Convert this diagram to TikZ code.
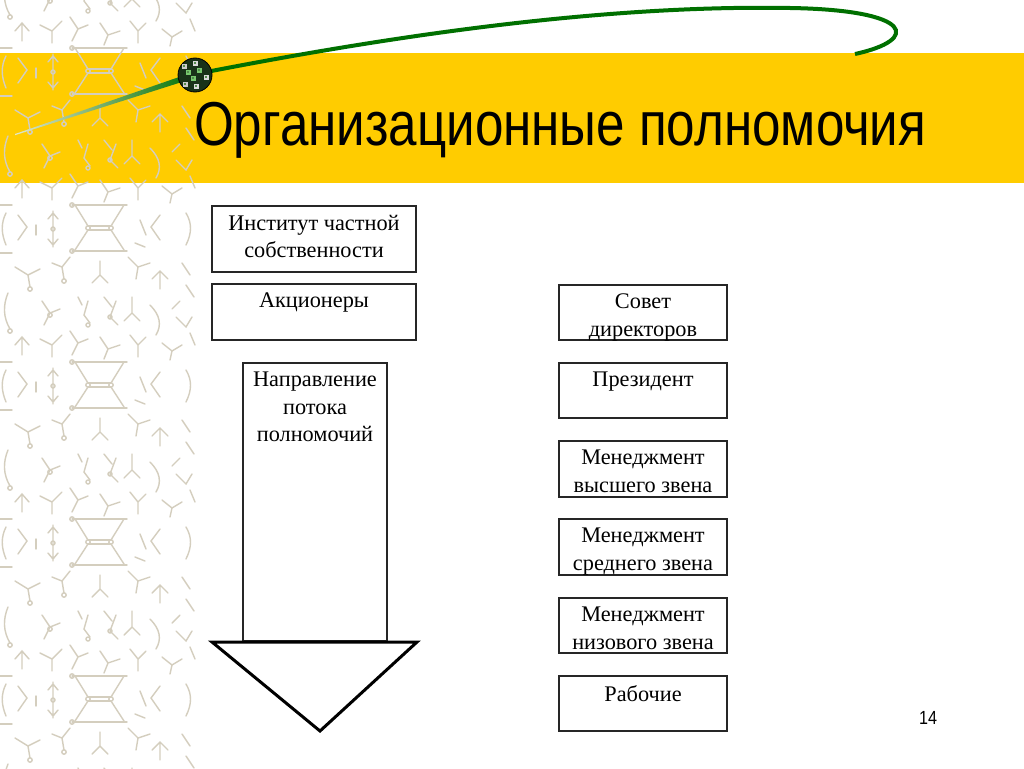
\documentclass[tikz,border=0pt]{standalone}
\usepackage{fontspec}
\setmainfont{Liberation Serif}
\newfontfamily\sansf{Liberation Sans}
\usetikzlibrary{positioning}
\definecolor{bandyellow}{RGB}{255,204,0}
\definecolor{patgray}{RGB}{212,206,190}
\definecolor{curvegreen}{RGB}{0,112,0}
\definecolor{palegreen}{RGB}{225,232,205}
\definecolor{dotdark}{RGB}{25,50,25}
\definecolor{dotlight}{RGB}{120,200,110}
\newcommand{\patterntile}{%
  % hourglass
  \draw (72,0) -- (127,0);
  \draw (75,0) -- (88,21) (124,0) -- (111,21);
  \draw (88,21) -- (111,21) (88,25) -- (111,25);
  \draw (88,25) -- (75,45) (111,25) -- (124,45);
  \draw (72,46) -- (127,46);
  \draw (72,0) circle (2.2) (88,23) circle (2.2) (111,23) circle (2.2) (72,46) circle (2.2);
  % left dashes and brackets
  \draw (0,0) -- (12,0) (0,48) -- (12,48);
  \draw (6,8) .. controls (1,18) and (1,28) .. (6,40);
  \draw (18,10) -- (27,22) -- (18,35);
  \draw (53,6) -- (53,42) (48,14) -- (53,8) -- (58,14) (48,34) -- (53,40) -- (58,34);
  \draw (53,24) circle (2);
  \draw (36,20) -- (36,30);
  % right brackets
  \draw (186,8) .. controls (192,18) and (192,28) .. (186,40);
  \draw (160,10) -- (151,22) -- (160,35);
  \draw (140,15) -- (146,30) (135,38) -- (145,42);
  % stick figures
  \draw (70,52) -- (62,62) (62,62) -- (52,58) (62,62) -- (64,74);
  \draw (64,76) circle (2.2);
  \draw (100,56) -- (100,70) (100,70) -- (92,78) (100,70) -- (108,78);
  \draw (128,52) -- (138,62) -- (150,58) (138,62) -- (136,74);
  \draw (160,66) -- (160,84) (152,74) -- (160,66) -- (168,74);
  \draw (182,58) -- (190,70) (186,80) -- (194,92);
  \draw (15,62) -- (28,70) -- (40,64) (28,70) -- (30,82);
  \draw (30,84) circle (2.2);
  \draw (8,88) .. controls (3,100) and (3,112) .. (10,124);
  \draw (10,126) circle (2.2);
  \draw (42,96) -- (50,108) -- (44,120) (50,108) -- (60,104);
  \draw (50,110) circle (2.2);
  \draw (78,92) -- (82,100) (88,96) -- (84,110) -- (90,118);
  \draw (88,120) circle (2);
  \draw (104,92) -- (112,102) (116,96) -- (110,112) -- (118,120);
  \draw (110,112) circle (2);
  \draw (132,92) -- (132,108) (124,116) -- (132,108) -- (140,116);
  \draw (150,100) .. controls (160,110) and (162,120) .. (156,130);
  \draw (172,104) -- (180,96) (176,112) -- (186,122) -- (192,112);
  \draw (22,132) -- (22,150) (15,140) -- (22,132) -- (29,140);
  \draw (40,134) -- (52,140) -- (62,130) (52,140) -- (52,152);
  \draw (70,126) -- (78,138) -- (72,150) (78,138) -- (88,134);
  \draw (100,132) -- (108,144) -- (120,140) (108,144) -- (104,154);
  \draw (130,130) -- (138,140) (138,140) -- (146,132) (138,140) -- (138,152);
  \draw (162,138) -- (172,146) -- (182,140) (172,146) -- (170,155);
  \draw (190,128) -- (195,140);
}
\tikzset{
  box/.style={draw=black!85, line width=1.1pt, fill=white, inner sep=0pt},
  leftbox/.style={box, minimum width=204pt},
  rightbox/.style={box, minimum width=168pt, minimum height=56pt},
  lbl/.style={font=\fontsize{22.3}{27.5}\selectfont, align=center, inner sep=0pt, anchor=north, yshift=-9.5pt},
  titlefont/.style={font=\sansf\fontsize{62}{62}\selectfont, inner sep=0pt}
}
\begin{document}
\begin{tikzpicture}[x=1pt,y=-1pt]
\useasboundingbox (0,0) rectangle (1024,768);
\fill[white] (0,0) rectangle (1024,768);
% yellow band
\fill[bandyellow] (0,53) rectangle (1024,183);
% decorative pattern strip
\begin{scope}
  \clip (0,0) rectangle (198,768);
  \begin{scope}[patgray, line width=1.4pt, line cap=round]
    \foreach \yy in {-109,48,205,362,519,676} {
      \begin{scope}[shift={(0,\yy)}]
        \patterntile
      \end{scope}
    }
  \end{scope}
\end{scope}
% title
\node[titlefont, anchor=base west] (title) at (194,145) {\resizebox{732pt}{\height}{Организационные полномочия}};
% green curve
\shade[left color=palegreen, right color=curvegreen] (15,134) -- (195,71.5) -- (196,77.5) -- (15,135.2) -- cycle;
\draw[curvegreen, line width=4pt] (196,74) .. controls (420,30) and (620,5) .. (790,8) .. controls (915,10) and (920,40) .. (855,54);
% dot
\coordinate (dotc) at (195,75);
\fill[dotdark] (dotc) circle (17);
\draw[black, line width=0.8pt] (dotc) circle (17);
\foreach \sx/\sy/\cc in {195/63/white!70!gray, 188/72/dotlight, 199/70/dotlight, 206/77/white!70!gray, 185/84/white!60!gray, 196/86/white!70!gray, 193/78/dotlight, 184/66/white!60!gray} {
  \fill[\cc] (\sx-2.5,\sy-2.5) rectangle (\sx+2.5,\sy+2.5);
  \fill[dotlight!70!black] (\sx-1,\sy-1) rectangle (\sx+1,\sy+1);
}
% left boxes
\node[leftbox, minimum height=66pt] (inst) at (314,239) {};
\node[lbl] (instT) at (inst.north) {Институт частной\\собственности};
\node[leftbox, minimum height=56pt] (akc) at (314,312) {};
\node[lbl] (akcT) at (akc.north) {Акционеры};
% flow arrow
\node[box, minimum width=144pt, minimum height=278pt, fill=none] (shaft) at (315,502) {};
\node[lbl] (shaftT) at (shaft.north) {Направление\\потока\\полномочий};
\coordinate (tl) at (212,642);
\coordinate (tr) at (417,642);
\coordinate (tip) at (320,731);
\draw[line width=3pt, line join=miter, fill=white] (tl) -- (tr) -- (tip) -- cycle;
% right boxes
\node[rightbox, minimum height=55pt] (sovet) at (643,312.5) {};
\node[lbl] (sovetT) at (sovet.north) {Совет\\директоров};
\node[rightbox, minimum height=55pt] (pres) at (643,390.5) {};
\node[lbl] (presT) at (pres.north) {Президент};
\node[rightbox] (top) at (643,469) {};
\node[lbl] (topT) at (top.north) {Менеджмент\\высшего звена};
\node[rightbox] (mid) at (643,547) {};
\node[lbl] (midT) at (mid.north) {Менеджмент\\среднего звена};
\node[rightbox, minimum height=55pt] (low) at (643,625.5) {};
\node[lbl] (lowT) at (low.north) {Менеджмент\\низового звена};
\node[rightbox, minimum height=55pt] (work) at (643,703.5) {};
\node[lbl] (workT) at (work.north) {Рабочие};
% page number
\node[font=\sansf\fontsize{19}{19}\selectfont, inner sep=0pt] (pnum) at (928,718) {\scalebox{0.85}[1]{14}};
\end{tikzpicture}
\end{document}
